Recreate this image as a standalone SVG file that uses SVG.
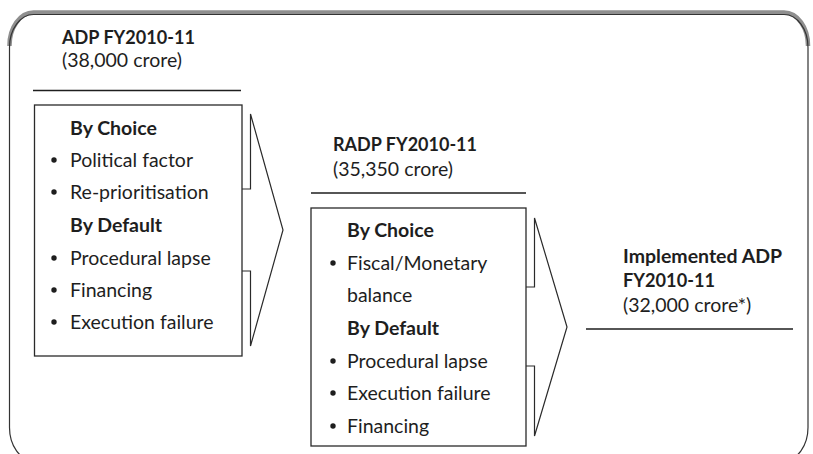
<svg xmlns="http://www.w3.org/2000/svg" width="813" height="454" viewBox="0 0 813 454">
<style>
text{font-family:Lato,"Open Sans","Liberation Sans",sans-serif;font-size:19.5px;fill:#1e1e1e}
.b{font-weight:bold}
.ln{stroke:#1e1e1e;stroke-width:1.3;fill:none}
.box{stroke:#2a2a2a;stroke-width:1.3;fill:#fff}
.arr{stroke:#2a2a2a;stroke-width:1.2;fill:#fff;stroke-linejoin:miter}
.dot{fill:#1e1e1e}
</style>
<rect width="813" height="454" fill="#fff"/>
<g id="frame">
<path d="M9.5,46 A24,33 0 0 1 33.5,12.5 L784,12.5 A24,33 0 0 1 808,46" fill="none" stroke="#8f8f8f" stroke-width="4.5"/>
<rect x="9.5" y="14.5" width="798.5" height="446" rx="24" ry="33" fill="none" stroke="#333" stroke-width="1.2"/>
</g>
<g id="connectors">
<polyline class="arr" points="242,189 250.5,189 250.5,114 283,230 250.5,346 250.5,271 242,271"/>
<polyline class="arr" points="526,287 534.5,287 534.5,218 567,327 534.5,436 534.5,366 526,366"/>
</g>
<g id="adp">
<text class="b" x="62" y="44" textLength="133" lengthAdjust="spacingAndGlyphs">ADP FY2010-11</text>
<text x="62" y="67">(38,000 crore)</text>
<line class="ln" x1="33" y1="90.5" x2="241" y2="90.5"/>
<rect class="box" x="34.5" y="105" width="207.5" height="251"/>
<text class="b" x="70" y="135">By Choice</text>
<circle class="dot" cx="54" cy="160" r="2.7"/><text x="70" y="167">Political factor</text>
<circle class="dot" cx="54" cy="192" r="2.7"/><text x="70" y="199">Re-prioritisation</text>
<text class="b" x="70" y="232">By Default</text>
<circle class="dot" cx="54" cy="258" r="2.7"/><text x="70" y="265">Procedural lapse</text>
<circle class="dot" cx="54" cy="290" r="2.7"/><text x="70" y="297">Financing</text>
<circle class="dot" cx="54" cy="322" r="2.7"/><text x="70" y="329">Execution failure</text>
</g>
<g id="radp">
<text class="b" x="333" y="151" textLength="144" lengthAdjust="spacingAndGlyphs">RADP FY2010-11</text>
<text x="333" y="176">(35,350 crore)</text>
<line class="ln" x1="311" y1="193" x2="526" y2="193"/>
<rect class="box" x="311" y="208" width="215" height="238"/>
<text class="b" x="347" y="237">By Choice</text>
<circle class="dot" cx="333" cy="263" r="2.7"/><text x="347" y="270">Fiscal/Monetary</text>
<text x="347" y="302">balance</text>
<text class="b" x="347" y="335">By Default</text>
<circle class="dot" cx="333" cy="361" r="2.7"/><text x="347" y="368">Procedural lapse</text>
<circle class="dot" cx="333" cy="393" r="2.7"/><text x="347" y="400">Execution failure</text>
<circle class="dot" cx="333" cy="426" r="2.7"/><text x="347" y="433">Financing</text>
</g>
<g id="implemented">
<text class="b" x="623" y="263">Implemented ADP</text>
<text class="b" x="623" y="287" textLength="92" lengthAdjust="spacingAndGlyphs">FY2010-11</text>
<text x="623" y="312">(32,000 crore*)</text>
<line class="ln" x1="586" y1="329" x2="793" y2="329"/>
</g>
</svg>
